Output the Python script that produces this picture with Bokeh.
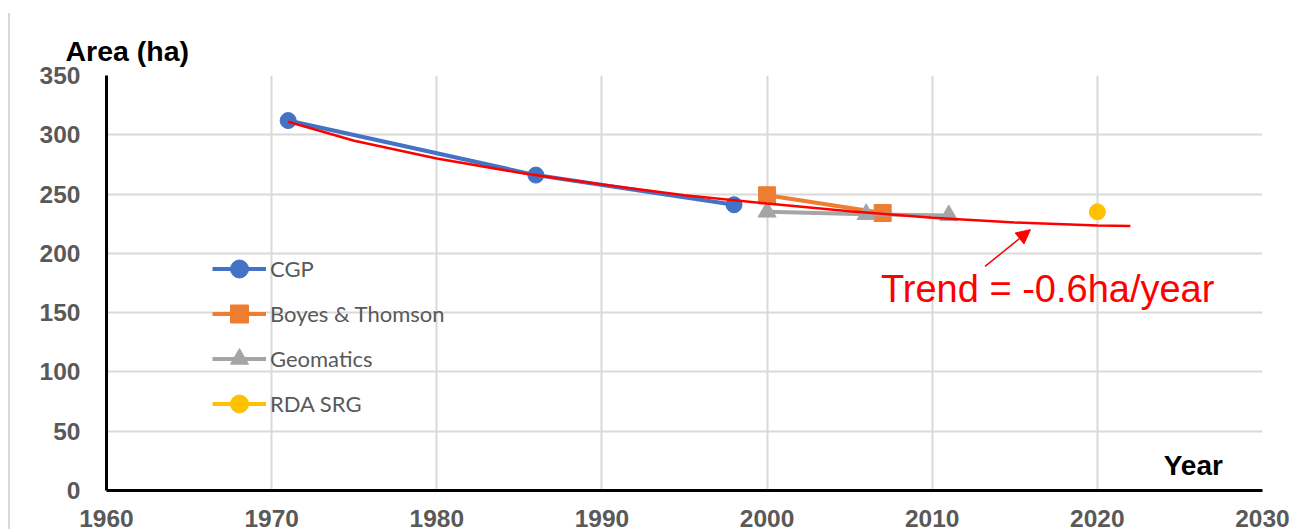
from bokeh.plotting import figure
from bokeh.models import Range1d, Label, Arrow, NormalHead, Legend, LegendItem, FixedTicker
from bokeh.embed import file_html
from bokeh.resources import INLINE

# ---- data ----
cgp_years = [1971, 1986, 1998]
cgp_area = [312, 266, 241]
bt_years = [2000, 2007]
bt_area = [249, 234]
geo_years = [2000, 2006, 2011]
geo_area = [235, 233, 232]
rda_years = [2020]
rda_area = [235]
trend_years = [1971, 1975, 1980, 1985, 1990, 1995, 2000, 2005, 2010, 2015, 2020, 2022]
trend_area = [311, 295, 280, 268, 258, 249, 242, 235.5, 230, 226, 223.5, 223]
x_ticks = [1960, 1970, 1980, 1990, 2000, 2010, 2020, 2030]
y_ticks = [0, 50, 100, 150, 200, 250, 300, 350]
trend_text = "Trend = -0.6ha/year"

p = figure(frame_width=1156, frame_height=415, x_range=Range1d(1960, 2030), y_range=Range1d(0, 350),
           output_backend="svg", toolbar_location=None,
           min_border_left=106, min_border_right=44, min_border_top=75, min_border_bottom=39)
p.outline_line_color = None
p.background_fill_color = "white"
p.border_fill_color = "white"

p.title.text = "Area (ha)"
p.title.align = "left"
p.title.offset = -41
p.title.text_font = "Liberation Sans"
p.title.text_font_size = "28.5px"
p.title.text_font_style = "bold"
p.title.text_color = "black"
p.title.standoff = 17

for ax, ticks in ((p.xaxis, x_ticks), (p.yaxis, y_ticks)):
    ax.ticker = FixedTicker(ticks=ticks)
    ax.axis_line_width = 3
    ax.axis_line_color = "black"
    ax.major_tick_line_color = None
    ax.minor_tick_line_color = None
    ax.major_label_text_font = "Liberation Sans"
    ax.major_label_text_font_style = "bold"
    ax.major_label_text_font_size = "24.5px"
    ax.major_label_text_color = "#595959"
p.xaxis.major_label_standoff = 13
p.yaxis.major_label_standoff = 20

for g in (p.xgrid, p.ygrid):
    g.grid_line_color = "#d9d9d9"
    g.grid_line_width = 2
p.xgrid.ticker = FixedTicker(ticks=x_ticks)
p.ygrid.ticker = FixedTicker(ticks=y_ticks)

series = [
    ("CGP", cgp_years, cgp_area, "#4472C4", "circle", 16),
    ("Boyes & Thomson", bt_years, bt_area, "#ED7D31", "square", 17),
    ("Geomatics", geo_years, geo_area, "#A5A5A5", "triangle", 18),
    ("RDA SRG", rda_years, rda_area, "#FFC000", "circle", 16),
]
items = []
for name, xs, ys, col, mk, sz in series:
    l = p.line(xs, ys, line_color=col, line_width=4)
    s = p.scatter(xs, ys, marker=mk, size=sz, fill_color=col, line_color=col)
    items.append(LegendItem(label=name, renderers=[l, s]))

p.line(trend_years, trend_area, line_color="#FF0000", line_width=2.5)

legend = Legend(items=items, location=(106, 64), orientation="vertical",
                glyph_width=54, glyph_height=45, label_height=45, spacing=0,
                padding=0, margin=0, border_line_color=None, background_fill_alpha=0,
                label_text_font="Lato", label_text_font_size="22px",
                label_text_color="#595959", label_standoff=4)
p.add_layout(legend)

p.add_layout(Arrow(end=NormalHead(size=14, fill_color="#FF0000", line_color="#FF0000"),
                   x_start=2013.2, y_start=189, x_end=2015.95, y_end=220,
                   line_color="#FF0000", line_width=1.5))
p.add_layout(Label(x=2006.9, y=170, text=trend_text, text_font="Liberation Sans",
                   text_font_size="38px", text_color="#FF0000", text_baseline="alphabetic"))
p.add_layout(Label(x=2027.6, y=21.5, text="Year", text_font="Liberation Sans",
                   text_font_size="28px", text_font_style="bold", text_color="black",
                   text_align="right", text_baseline="alphabetic"))

html = file_html(p, INLINE)
html = html.replace(
    "<head>",
    "<head><style>html,body{overflow:hidden}"
    "body::before{content:'';position:fixed;left:8px;top:13px;width:2px;height:100%;"
    "background:#d9d9d9;z-index:10}</style>", 1)
open("out.html", "w").write(html)
